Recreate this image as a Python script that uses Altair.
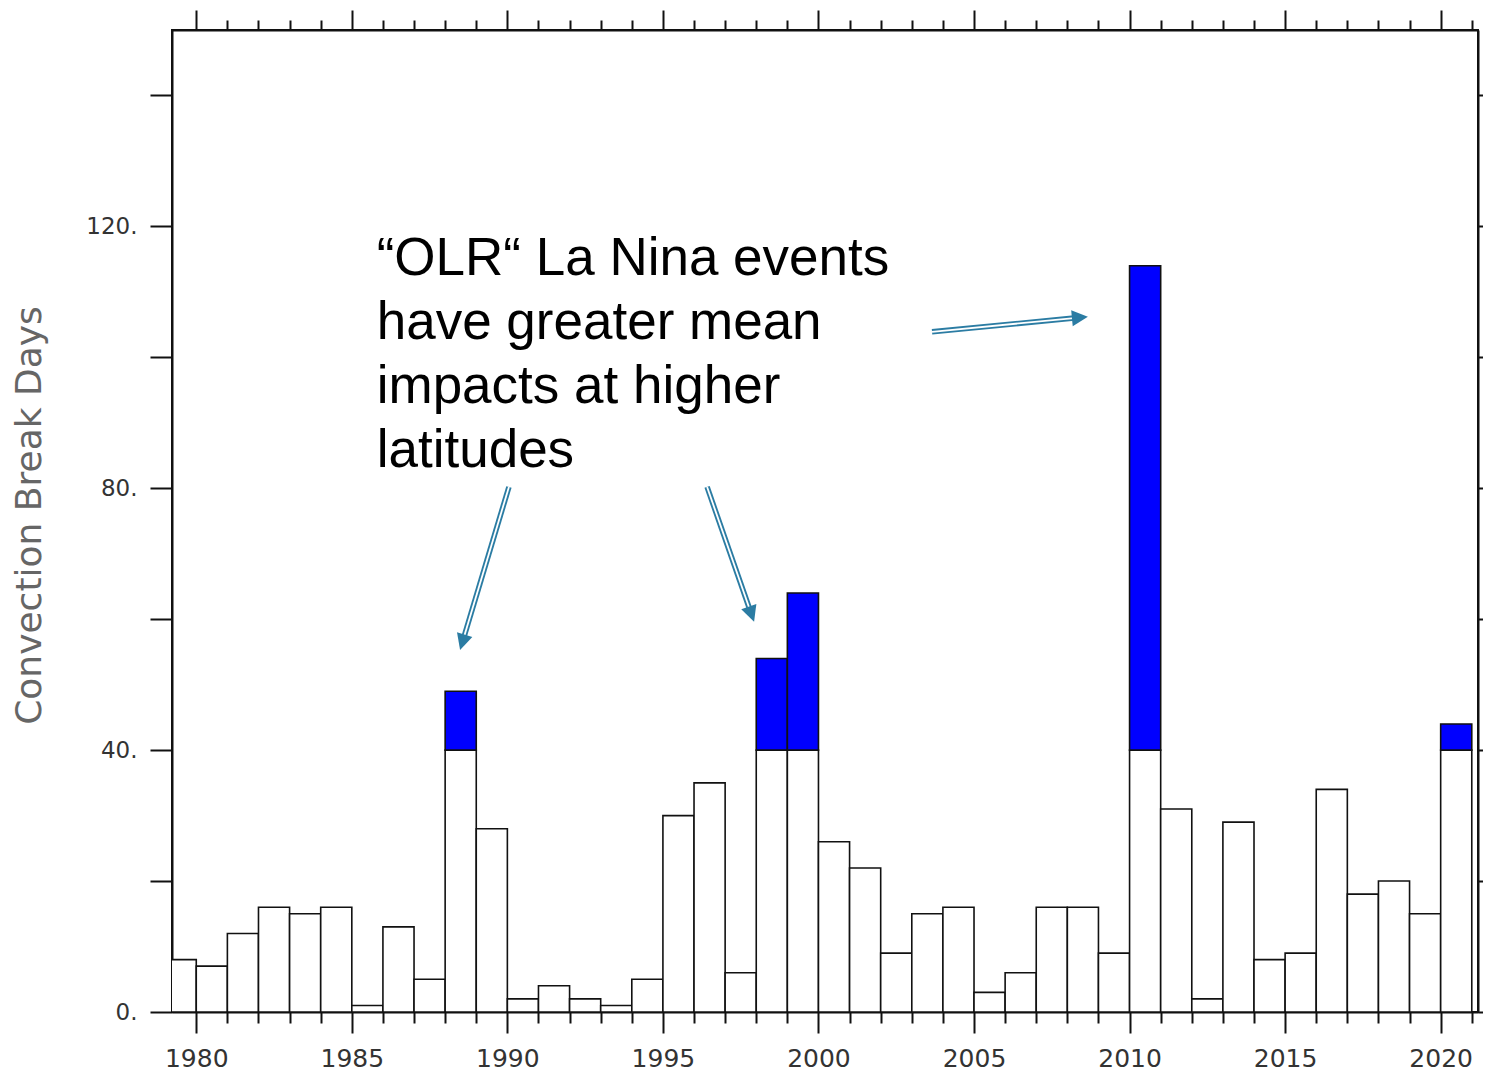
import math
import altair as alt
import pandas as pd

# ---------------- data ----------------
years = list(range(1979, 2021))
days = [8, 7, 12, 16, 15, 16, 1, 13, 5, 49,
        28, 2, 4, 2, 1, 5, 30, 35, 6, 54,
        64, 26, 22, 9, 15, 16, 3, 6, 16, 16,
        9, 114, 31, 2, 29, 8, 9, 34, 18, 20,
        15, 44]
threshold = 40

x_ticks = list(range(1980, 2022))
y_ticks = list(range(0, 141, 20))

note_lines = ["\u201cOLR\u201c La Nina events", "have greater mean",
              "impacts at higher", "latitudes"]
note_x, note_y = 1985.8, 119.0

arrow_start_x = [1990.05, 1996.42, 2003.65]
arrow_start_y = [80.2, 80.2, 103.9]
arrow_tip_x = [1988.48, 1997.93, 2008.66]
arrow_tip_y = [55.3, 59.6, 106.2]

# ---------------- layout ----------------
W, H = 1306, 982
XDOM = [1979.22, 2021.2]
YDOM = [0, 150]
TEAL = "#2b7ca3"
HEAD_LEN = 16.0
HEAD_PATH = "M0,0 L-0.5,1 L0.5,1 Z"

xs = alt.Scale(domain=XDOM, nice=False, zero=False)
ys = alt.Scale(domain=YDOM, nice=False, zero=False)


def to_px(x, y):
    return ((x - XDOM[0]) / (XDOM[1] - XDOM[0]) * W,
            H - (y - YDOM[0]) / (YDOM[1] - YDOM[0]) * H)


def to_data(px, py):
    return (XDOM[0] + px / W * (XDOM[1] - XDOM[0]),
            YDOM[0] + (H - py) / H * (YDOM[1] - YDOM[0]))


bars = pd.DataFrame({
    "year": years,
    "year_end": [y + 1 for y in years],
    "low": [0] * len(years),
    "white_top": [min(d, threshold) for d in days],
})
blue = pd.DataFrame({
    "year": [y for y, d in zip(years, days) if d > threshold],
    "year_end": [y + 1 for y, d in zip(years, days) if d > threshold],
    "low": [threshold for d in days if d > threshold],
    "top": [d for d in days if d > threshold],
})

rows_l, rows_h = [], []
for sx, sy, tx, ty in zip(arrow_start_x, arrow_start_y, arrow_tip_x, arrow_tip_y):
    psx, psy = to_px(sx, sy)
    ptx, pty = to_px(tx, ty)
    dx, dy = ptx - psx, pty - psy
    L = math.hypot(dx, dy)
    ux, uy = dx / L, dy / L
    ex, ey = to_data(ptx - ux * HEAD_LEN * 0.7, pty - uy * HEAD_LEN * 0.7)
    rows_l.append({"x": sx, "y": sy, "x2": ex, "y2": ey})
    ang = math.degrees(math.atan2(ux, -uy)) % 360
    rows_h.append({"x": tx, "y": ty, "angle": ang})
arrow_lines = pd.DataFrame(rows_l)
arrow_heads = pd.DataFrame(rows_h)

note = pd.DataFrame({"x": [note_x], "y": [note_y], "t": ["\n".join(note_lines)]})

tick5 = "datum.value % 5 === 0"
common = dict(grid=False, tickColor="#111", tickWidth=2, domainColor="#111",
              domainWidth=2, labelOverlap=False)

bottom_axis = alt.Axis(orient="bottom", values=x_ticks, format="d", title=None,
                       labelExpr="datum.value % 5 === 0 ? datum.label : ''",
                       tickSize={"condition": {"test": tick5, "value": 21}, "value": 11},
                       labelPadding=13, labelFont="DejaVu Sans", labelFontSize=25,
                       labelColor="#333", labelFlush=False, **common)
top_axis = alt.Axis(orient="top", values=x_ticks, labels=False, title=None,
                    tickSize={"condition": {"test": tick5, "value": 20}, "value": 10},
                    **common)
left_axis = alt.Axis(orient="left", values=y_ticks, tickSize=22,
                     labelExpr="datum.value % 40 === 0 ? datum.value + '.' : ''",
                     labelPadding=13, labelFont="DejaVu Sans", labelFontSize=23,
                     labelColor="#333",
                     title="Convection Break Days", titleFont="DejaVu Sans",
                     titleFontSize=36, titleFontWeight="normal", titleColor="#666",
                     titleX=-143, titleY=485, titleAngle=270,
                     titleBaseline="middle", titleAlign="center", **common)
right_axis = alt.Axis(orient="right", values=y_ticks, labels=False, title=None,
                      tickSize=6, **common)

white_bars = alt.Chart(bars).mark_bar(fill="white", stroke="#111", strokeWidth=1.6,
                                      clip=True).encode(
    x=alt.X("year:Q", scale=xs, axis=bottom_axis),
    x2="year_end:Q",
    y=alt.Y("low:Q", scale=ys, axis=left_axis),
    y2="white_top:Q",
)
blue_bars = alt.Chart(blue).mark_bar(fill="#0000ff", stroke="#111", strokeWidth=1.6,
                                     clip=True).encode(
    x=alt.X("year:Q", scale=xs, axis=top_axis),
    x2="year_end:Q",
    y=alt.Y("low:Q", scale=ys, axis=right_axis),
    y2="top:Q",
)

line_outer = alt.Chart(arrow_lines).mark_rule(color=TEAL, strokeWidth=5.5,
                                              strokeCap="butt").encode(
    x=alt.X("x:Q", scale=xs, axis=None), y=alt.Y("y:Q", scale=ys, axis=None),
    x2="x2:Q", y2="y2:Q")
line_inner = alt.Chart(arrow_lines).mark_rule(color="white", strokeWidth=1.8,
                                              strokeCap="butt").encode(
    x=alt.X("x:Q", scale=xs, axis=None), y=alt.Y("y:Q", scale=ys, axis=None),
    x2="x2:Q", y2="y2:Q")
heads = alt.Chart(arrow_heads).mark_point(shape=HEAD_PATH, filled=True,
                                          size=(2 * HEAD_LEN) ** 2,
                                          color=TEAL, opacity=1, strokeWidth=0).encode(
    x=alt.X("x:Q", scale=xs, axis=None), y=alt.Y("y:Q", scale=ys, axis=None),
    angle=alt.Angle("angle:Q", scale=None))

text = alt.Chart(note).mark_text(align="left", baseline="top", lineBreak="\n",
                                 lineHeight=64, font="Liberation Sans", fontSize=53,
                                 color="#000").encode(
    x=alt.X("x:Q", scale=xs, axis=None), y=alt.Y("y:Q", scale=ys, axis=None),
    text="t:N")

chart = alt.layer(white_bars, blue_bars, line_outer, line_inner, heads, text).resolve_axis(
    x="independent", y="independent"
).properties(
    width=W, height=H,
    autosize=alt.AutoSizeParams(type="none"),
    padding={"left": 164, "top": 22, "right": 5, "bottom": 60},
).configure_view(stroke="#111", strokeWidth=2)

chart.save("out.html", embed_options={"renderer": "svg", "actions": False})
